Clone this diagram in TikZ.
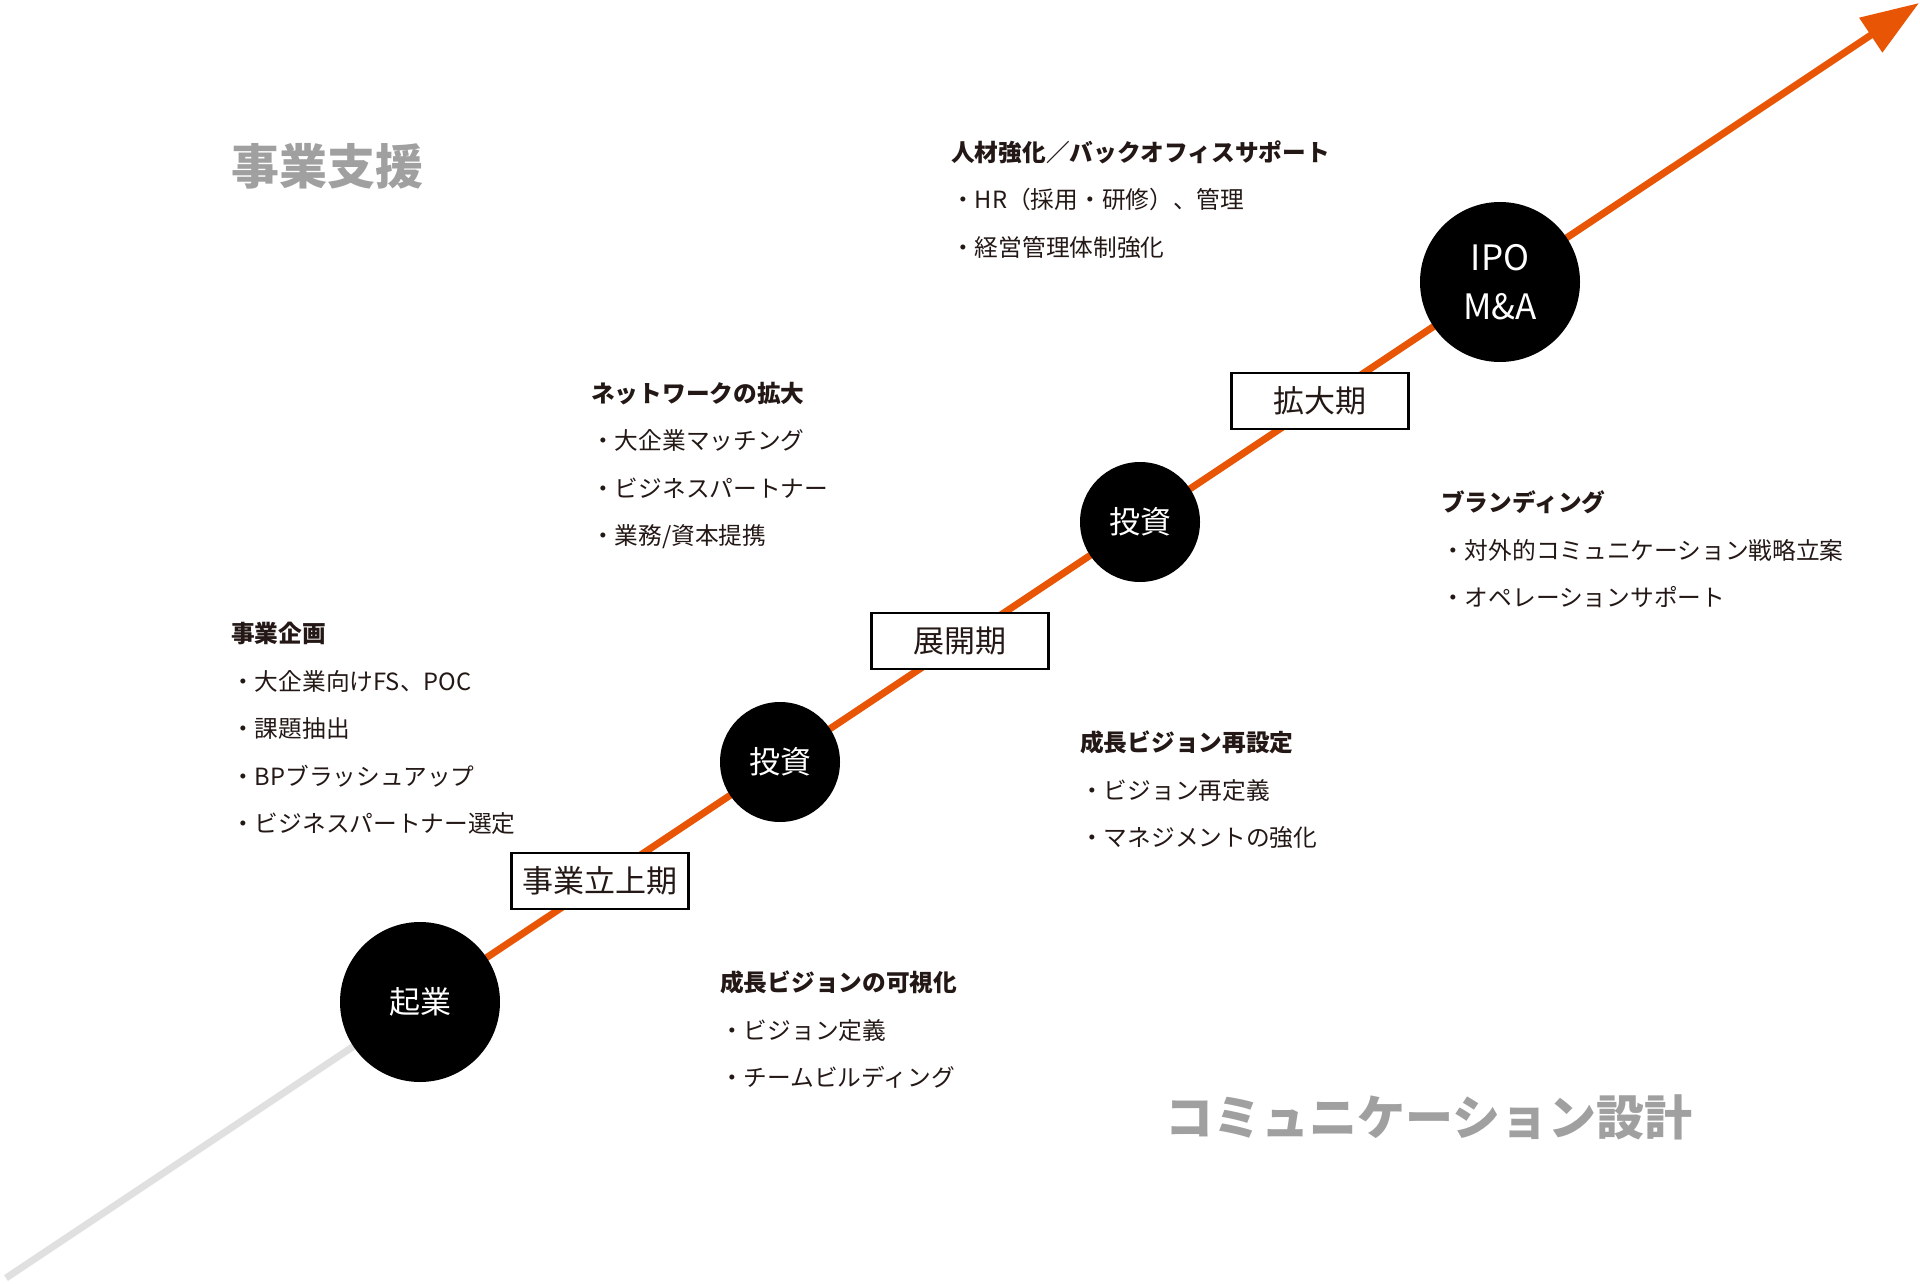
\documentclass[tikz,border=0pt]{standalone}
\usepackage{fontspec}
\setmainfont{Noto Sans CJK JP}
\usetikzlibrary{arrows.meta,backgrounds}
\definecolor{ink}{HTML}{231815}
\definecolor{accent}{HTML}{E85504}
\definecolor{trackgray}{HTML}{E0E0E0}
\definecolor{titlegray}{HTML}{A0A0A0}
\begin{document}
\begin{tikzpicture}[x=1pt,y=-1pt,
  bigstage/.style={circle,fill=black,minimum size=160pt,inner sep=0pt,text=white,font=\fontsize{31}{31}\selectfont},
  smallstage/.style={circle,fill=black,minimum size=120pt,inner sep=0pt,text=white,font=\fontsize{31}{31}\selectfont},
  phase/.style={rectangle,draw=black,line width=2.7pt,fill=white,minimum width=177pt,minimum height=56pt,inner sep=0pt,text=ink,font=\fontsize{31}{31}\selectfont},
  item/.style={anchor=base west,inner sep=0pt,text=ink,font=\fontsize{23.7}{28}\selectfont},
  head/.style={item,font=\fontsize{23.7}{28}\selectfont\bfseries},
  bigtitle/.style={anchor=base west,inner sep=0pt,text=titlegray,font=\fontsize{48}{48}\selectfont\bfseries},
  track/.style={draw=trackgray,line width=7pt},
  mainline/.style={draw=accent,line width=7pt,-{Triangle[length=58pt,width=40pt]}}]
\useasboundingbox (0,0) rectangle (1920,1284);
% stages
\node[bigstage] (s1) at (420,1002) {起業};
\node[smallstage] (s2) at (780,762) {投資};
\node[smallstage] (s3) at (1140,522) {投資};
\node[bigstage,align=center,font=\fontsize{35}{49}\selectfont] (s4) at (1500,282) {IPO\\M\&A};
% phases
\node[phase] (p1) at (600,881) {事業立上期};
\node[phase] (p2) at (960,641) {展開期};
\node[phase] (p3) at (1320,401) {拡大期};
% path
\coordinate (origin) at (6,1278);
\coordinate (tip) at (1919,3);
\begin{scope}[on background layer]
\draw[track] (origin) -- (s1.center);
\draw[mainline] (s1.center) -- (tip);
\end{scope}
% titles
\node[bigtitle] (t1) at (231,185) {事業支援};
\node[bigtitle] (t2) at (1165,1135) {コミュニケーション設計};
% block A
\node[head] (a0) at (951,161.5) {人材強化／バックオフィスサポート};
\node[item] (a1) at (951,209) {・HR（採用・研修）、管理};
\node[item] (a2) at (951,256.5) {・経営管理体制強化};
% block B
\node[head] (b0) at (591,402) {ネットワークの拡大};
\node[item] (b1) at (591,449.5) {・大企業マッチング};
\node[item] (b2) at (591,497) {・ビジネスパートナー};
\node[item] (b3) at (591,544.5) {・業務/資本提携};
% block C
\node[head] (c0) at (231,642) {事業企画};
\node[item] (c1) at (231,690) {・大企業向けFS、POC};
\node[item] (c2) at (231,737.5) {・課題抽出};
\node[item] (c3) at (231,785) {・BPブラッシュアップ};
\node[item] (c4) at (231,832) {・ビジネスパートナー選定};
% block D
\node[head] (d0) at (1441,511) {ブランディング};
\node[item] (d1) at (1441,559) {・対外的コミュニケーション戦略立案};
\node[item] (d2) at (1441,606) {・オペレーションサポート};
% block E
\node[head] (e0) at (1080,751) {成長ビジョン再設定};
\node[item] (e1) at (1080,799) {・ビジョン再定義};
\node[item] (e2) at (1080,846) {・マネジメントの強化};
% block F
\node[head] (f0) at (720,991) {成長ビジョンの可視化};
\node[item] (f1) at (720,1039) {・ビジョン定義};
\node[item] (f2) at (720,1086) {・チームビルディング};
\end{tikzpicture}
\end{document}
